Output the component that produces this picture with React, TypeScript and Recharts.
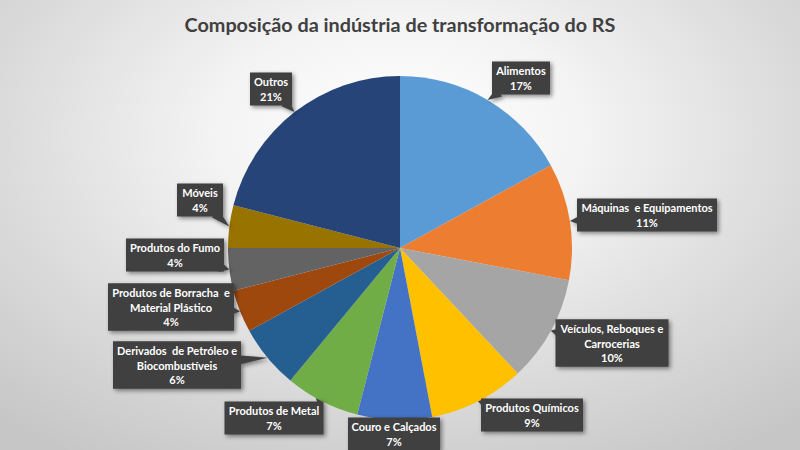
import React from "react";
import { PieChart, Pie, Cell } from "recharts";

const categories = [
  "Alimentos",
  "Máquinas e Equipamentos",
  "Veículos, Reboques e Carrocerias",
  "Produtos Químicos",
  "Couro e Calçados",
  "Produtos de Metal",
  "Derivados de Petróleo e Biocombustíveis",
  "Produtos de Borracha e Material Plástico",
  "Produtos do Fumo",
  "Móveis",
  "Outros",
];

const shares = [17, 11, 10, 9, 7, 7, 6, 4, 4, 4, 21];

const labelLines = [
  ["Alimentos"],
  ["Máquinas  e Equipamentos"],
  ["Veículos, Reboques e", "Carrocerias"],
  ["Produtos Químicos"],
  ["Couro e Calçados"],
  ["Produtos de Metal"],
  ["Derivados  de Petróleo e", "Biocombustíveis"],
  ["Produtos de Borracha  e", "Material Plástico"],
  ["Produtos do Fumo"],
  ["Móveis"],
  ["Outros"],
];

const colors = [
  "#5B9BD5",
  "#ED7D31",
  "#A5A5A5",
  "#FFC000",
  "#4472C4",
  "#70AD47",
  "#255E91",
  "#9E480E",
  "#636363",
  "#997300",
  "#264478",
];

// callout box placement, relative to pie centre (layout only)
const calloutBoxes = [
  { dx: 121, dy: -170, w: 58 },
  { dx: 247, dy: -33, w: 140 },
  { dx: 212, dy: 95, w: 113 },
  { dx: 132, dy: 167, w: 102 },
  { dx: -6, dy: 186, w: 92 },
  { dx: -126, dy: 170, w: 99 },
  { dx: -223, dy: 117, w: 128 },
  { dx: -229, dy: 59, w: 126 },
  { dx: -225, dy: 7, w: 98 },
  { dx: -200, dy: -48, w: 46 },
  { dx: -129, dy: -159, w: 42 },
];

const data = categories.map((name, i) => ({ name, value: shares[i] }));

const RADIAN = Math.PI / 180;
const LINE_H = 14.5;

const renderCallout = (props: any) => {
  const { cx, cy, midAngle, outerRadius, index, value } = props;
  const tipX = cx + outerRadius * Math.cos(-midAngle * RADIAN);
  const tipY = cy + outerRadius * Math.sin(-midAngle * RADIAN);
  const box = calloutBoxes[index];
  const lines = [...labelLines[index], `${value}%`];
  const h = lines.length * LINE_H + 4;
  const bx = cx + box.dx;
  const by = cy + box.dy;

  // pointer from the box edge to the slice edge
  const vx = tipX - bx;
  const vy = tipY - by;
  const len = Math.hypot(vx, vy);
  const ux = vx / len;
  const uy = vy / len;
  const tx = ux !== 0 ? box.w / 2 / Math.abs(ux) : Infinity;
  const ty = uy !== 0 ? h / 2 / Math.abs(uy) : Infinity;
  const t = Math.min(tx, ty) - 4;
  const px = bx + ux * t;
  const py = by + uy * t;
  const pts = `${tipX},${tipY} ${px - uy * 5},${py + ux * 5} ${px + uy * 5},${py - ux * 5}`;

  return (
    <g key={`callout-${index}`}>
      <g style={{ filter: "drop-shadow(2px 2px 2px rgba(0,0,0,0.45))" }}>
        <polygon points={pts} fill="#404040" />
        <rect x={bx - box.w / 2} y={by - h / 2} width={box.w} height={h} fill="#404040" />
      </g>
      <text
        x={bx}
        textAnchor="middle"
        fill="#ffffff"
        fontSize={11}
        fontWeight="bold"
        fontFamily="Lato, 'Noto Sans', sans-serif"
        style={{ whiteSpace: "pre" }}
      >
        {lines.map((ln, i) => (
          <tspan
            key={i}
            x={bx}
            y={by - ((lines.length - 1) * LINE_H) / 2 + i * LINE_H}
            dominantBaseline="central"
          >
            {ln}
          </tspan>
        ))}
      </text>
    </g>
  );
};

export default function App() {
  return (
    <div
      style={{
        position: "relative",
        width: 800,
        height: 450,
        overflow: "hidden",
        background:
          "radial-gradient(ellipse 75% 85% at 50% 30%, #ffffff 0%, #f4f4f4 30%, #dcdcdc 65%, #c6c6c6 100%)",
      }}
    >
      <style>{`body { margin: 0; }`}</style>
      <div
        style={{
          position: "absolute",
          top: 12,
          left: 0,
          width: 800,
          textAlign: "center",
          fontFamily: "Lato, 'Noto Sans', sans-serif",
          fontWeight: 700,
          fontSize: 19.8,
          color: "#404040",
        }}
      >
        Composição da indústria de transformação do RS
      </div>
      <PieChart
        width={800}
        height={450}
        margin={{ top: 0, right: 0, bottom: 0, left: 0 }}
        style={{ position: "absolute", top: 0, left: 0 }}
      >
        <Pie
          data={data}
          dataKey="value"
          nameKey="name"
          cx={400}
          cy={248}
          outerRadius={172}
          startAngle={90}
          endAngle={-270}
          stroke="none"
          label={renderCallout}
          labelLine={false}
          isAnimationActive={false}
        >
          {data.map((d, i) => (
            <Cell key={d.name} fill={colors[i]} />
          ))}
        </Pie>
      </PieChart>
    </div>
  );
}
